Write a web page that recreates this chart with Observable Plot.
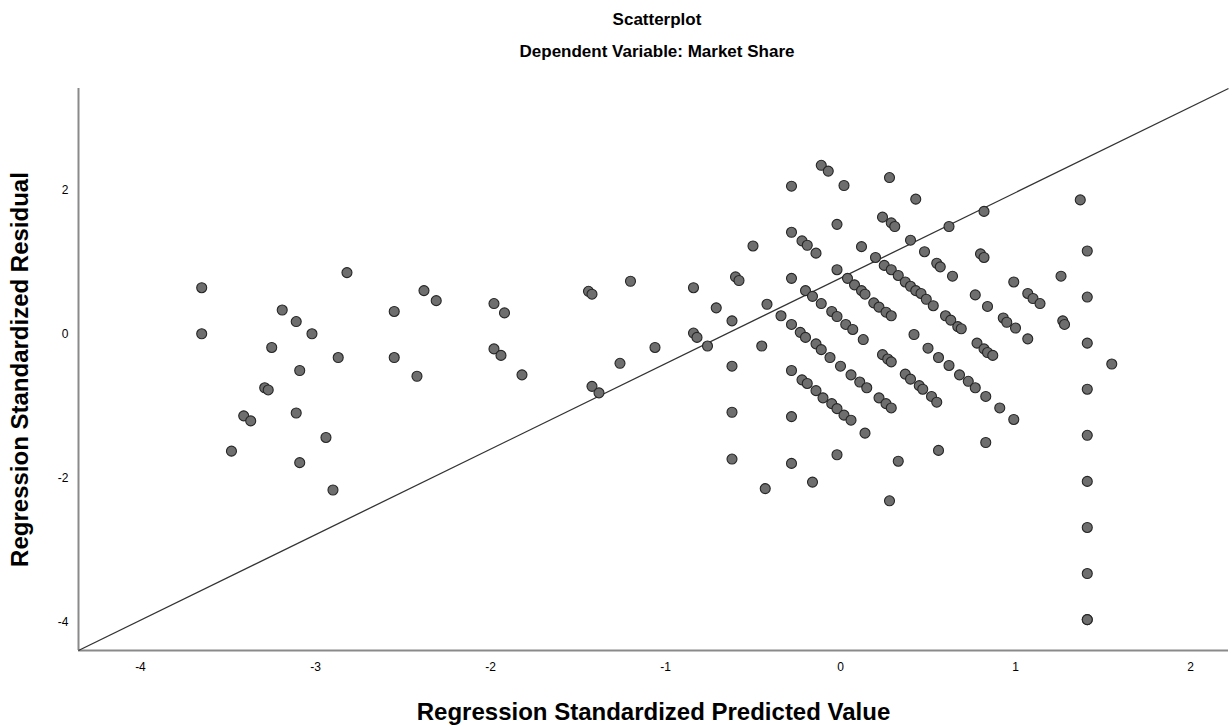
<!DOCTYPE html>
<html>
<head>
<meta charset="utf-8">
<script src="https://cdn.jsdelivr.net/npm/d3@7"></script>
<script src="https://cdn.jsdelivr.net/npm/@observablehq/plot@0.6"></script>
<style>
  html, body { margin: 0; padding: 0; background: #fff; }
  #wrap { width: 1232px; height: 726px; position: relative; font-family: "Liberation Sans", Arial, sans-serif; }
  #titles { position: relative; height: 80px; width: 1232px; }
  .t { position: absolute; left: 82px; width: 1150px; text-align: center; font-weight: bold; font-size: 17px; line-height: 20px; color: #000; }
  svg { display: block; overflow: visible; }
</style>
</head>
<body>
<div id="wrap">
  <div id="titles">
    <div class="t" style="top:10px">Scatterplot</div>
    <div class="t" style="top:42px">Dependent Variable: Market Share</div>
  </div>
  <div id="chart"></div>
</div>
<script>
const titleText = "Scatterplot";
const subtitleText = "Dependent Variable: Market Share";
const xLabel = "Regression Standardized Predicted Value";
const yLabel = "Regression Standardized Residual";
const xTicks = [-4, -3, -2, -1, 0, 1, 2];
const yTicks = [-4, -2, 0, 2];
const xDomain = [-4.354, 2.217];
const yDomain = [-4.389, 3.417];

const predicted = [
  -3.65, -3.65, -3.19, -3.11, -3.02, -3.25, -2.82, -2.87, -2.55, -2.55,
  -2.38, -2.31, -3.09, -2.42, -3.29, -3.27, -3.41, -3.37, -3.11, -3.48,
  -2.94, -3.09, -2.90, -1.98, -1.92, -1.98, -1.94, -1.82, -1.44, -1.42,
  -1.20, -1.42, -1.38, -1.26, -1.06, -0.84, -0.84, -0.82, -0.76, -0.71,
  -0.62, -0.60, -0.58, -0.50, -0.42, -0.45, -0.62, -0.62, -0.62, -0.34,
  -0.43, -0.16, -0.28, -0.02, -0.11, -0.07, 0.28, -0.28, 0.02, 0.43,
  -0.02, 0.24, 0.29, 0.31, -0.28, -0.22, -0.19, -0.14, 0.12, 0.40,
  0.48, 0.20, 0.55, 0.57, -0.28, -0.02, 0.04, 0.08, 0.12, 0.14,
  0.19, 0.22, 0.26, 0.29, 0.25, 0.29, 0.33, 0.37, 0.40, 0.43,
  0.46, 0.49, 0.53, -0.20, -0.16, -0.11, -0.05, -0.02, 0.03, 0.07,
  0.13, -0.28, -0.23, -0.20, -0.14, -0.11, -0.06, 0.00, 0.06, 0.11,
  0.15, 0.42, 0.50, 0.56, 0.24, 0.27, 0.29, 0.37, 0.40, 0.45,
  0.47, 0.52, 0.55, 0.22, 0.26, 0.29, -0.28, -0.22, -0.19, -0.14,
  -0.10, -0.05, -0.02, 0.02, 0.06, 0.14, -0.28, 0.33, 0.28, 0.56,
  1.37, 0.82, 0.62, 0.80, 0.82, 0.64, 1.41, 1.26, 0.99, 0.77,
  1.07, 1.10, 1.14, 0.84, 1.41, 0.60, 0.93, 1.27, 0.63, 0.67,
  0.69, 0.95, 1.00, 1.07, 1.28, 1.41, 1.55, 1.41, 1.41, 1.41,
  0.78, 0.82, 0.84, 0.87, 0.62, 0.68, 0.73, 0.77, 0.83, 0.91,
  0.99, 0.83, 1.41, 1.41, 1.41, 1.41
];
const residual = [
  0.65, 0.01, 0.34, 0.18, 0.01, -0.18, 0.86, -0.32, 0.32, -0.32,
  0.61, 0.47, -0.50, -0.58, -0.74, -0.77, -1.13, -1.20, -1.09, -1.62,
  -1.43, -1.78, -2.16, 0.43, 0.30, -0.20, -0.29, -0.56, 0.60, 0.56,
  0.74, -0.72, -0.81, -0.40, -0.18, 0.65, 0.02, -0.04, -0.16, 0.37,
  0.19, 0.80, 0.75, 1.23, 0.42, -0.16, -0.44, -1.08, -1.73, 0.26,
  -2.14, -2.05, -1.79, -1.67, 2.35, 2.27, 2.18, 2.06, 2.07, 1.88,
  1.53, 1.63, 1.55, 1.50, 1.42, 1.30, 1.24, 1.13, 1.22, 1.31,
  1.15, 1.07, 0.99, 0.94, 0.78, 0.90, 0.78, 0.69, 0.61, 0.56,
  0.44, 0.38, 0.31, 0.26, 0.96, 0.90, 0.82, 0.73, 0.67, 0.61,
  0.57, 0.49, 0.40, 0.61, 0.53, 0.43, 0.32, 0.25, 0.14, 0.07,
  -0.07, 0.14, 0.03, -0.04, -0.13, -0.21, -0.32, -0.44, -0.56, -0.66,
  -0.74, 0.00, -0.19, -0.32, -0.28, -0.34, -0.38, -0.55, -0.62, -0.71,
  -0.76, -0.86, -0.94, -0.88, -0.96, -1.02, -0.50, -0.63, -0.68, -0.78,
  -0.88, -0.96, -1.03, -1.12, -1.19, -1.37, -1.14, -1.76, -2.31, -1.61,
  1.87, 1.71, 1.50, 1.12, 1.07, 0.81, 1.16, 0.81, 0.73, 0.55,
  0.57, 0.50, 0.43, 0.39, 0.52, 0.26, 0.23, 0.19, 0.20, 0.11,
  0.08, 0.17, 0.09, -0.06, 0.14, -0.12, -0.41, -0.76, -1.40, -2.04,
  -0.12, -0.20, -0.25, -0.29, -0.43, -0.56, -0.65, -0.74, -0.86, -1.02,
  -1.18, -1.50, -2.68, -3.32, -3.96, -3.96
];

const points = predicted.map((x, i) => ({x, y: residual[i]}));

const chart = Plot.plot({
  width: 1232,
  height: 646,
  marginTop: 8,
  marginBottom: 76,
  marginLeft: 78,
  marginRight: 4,
  style: {fontFamily: "'Liberation Sans', Arial, sans-serif", fontSize: "12px", color: "#000", background: "#fff", overflow: "visible"},
  x: {domain: xDomain, ticks: xTicks},
  y: {domain: yDomain, ticks: yTicks},
  marks: [
    Plot.axisX({ticks: xTicks, tickSize: 0, tickPadding: 12, tickFormat: d => String(d), label: null, fontSize: 12}),
    Plot.axisY({ticks: yTicks, tickSize: 0, tickPadding: 10, tickFormat: d => String(d), label: null, fontSize: 12}),
    Plot.text([xLabel], {text: d => d, frameAnchor: "bottom", textAnchor: "middle", lineAnchor: "middle", dy: 62, fontSize: 24, fontWeight: "bold", fill: "#000"}),
    Plot.text([yLabel], {text: d => d, frameAnchor: "left", textAnchor: "middle", lineAnchor: "middle", dx: -58, rotate: -90, fontSize: 24, fontWeight: "bold", fill: "#000"}),
    Plot.ruleX([xDomain[0]], {stroke: "#8a8a8a", strokeWidth: 2}),
    Plot.ruleY([yDomain[0]], {stroke: "#8a8a8a", strokeWidth: 2}),
    Plot.link([0], {x1: () => xDomain[0], y1: () => yDomain[0], x2: () => xDomain[1], y2: () => yDomain[1], stroke: "#333", strokeWidth: 1.3}),
    Plot.dot(points, {x: "x", y: "y", r: 5, fill: "#6e6e6e", stroke: "#262626", strokeWidth: 1.1})
  ]
});
document.getElementById("chart").appendChild(chart);
</script>
</body>
</html>
